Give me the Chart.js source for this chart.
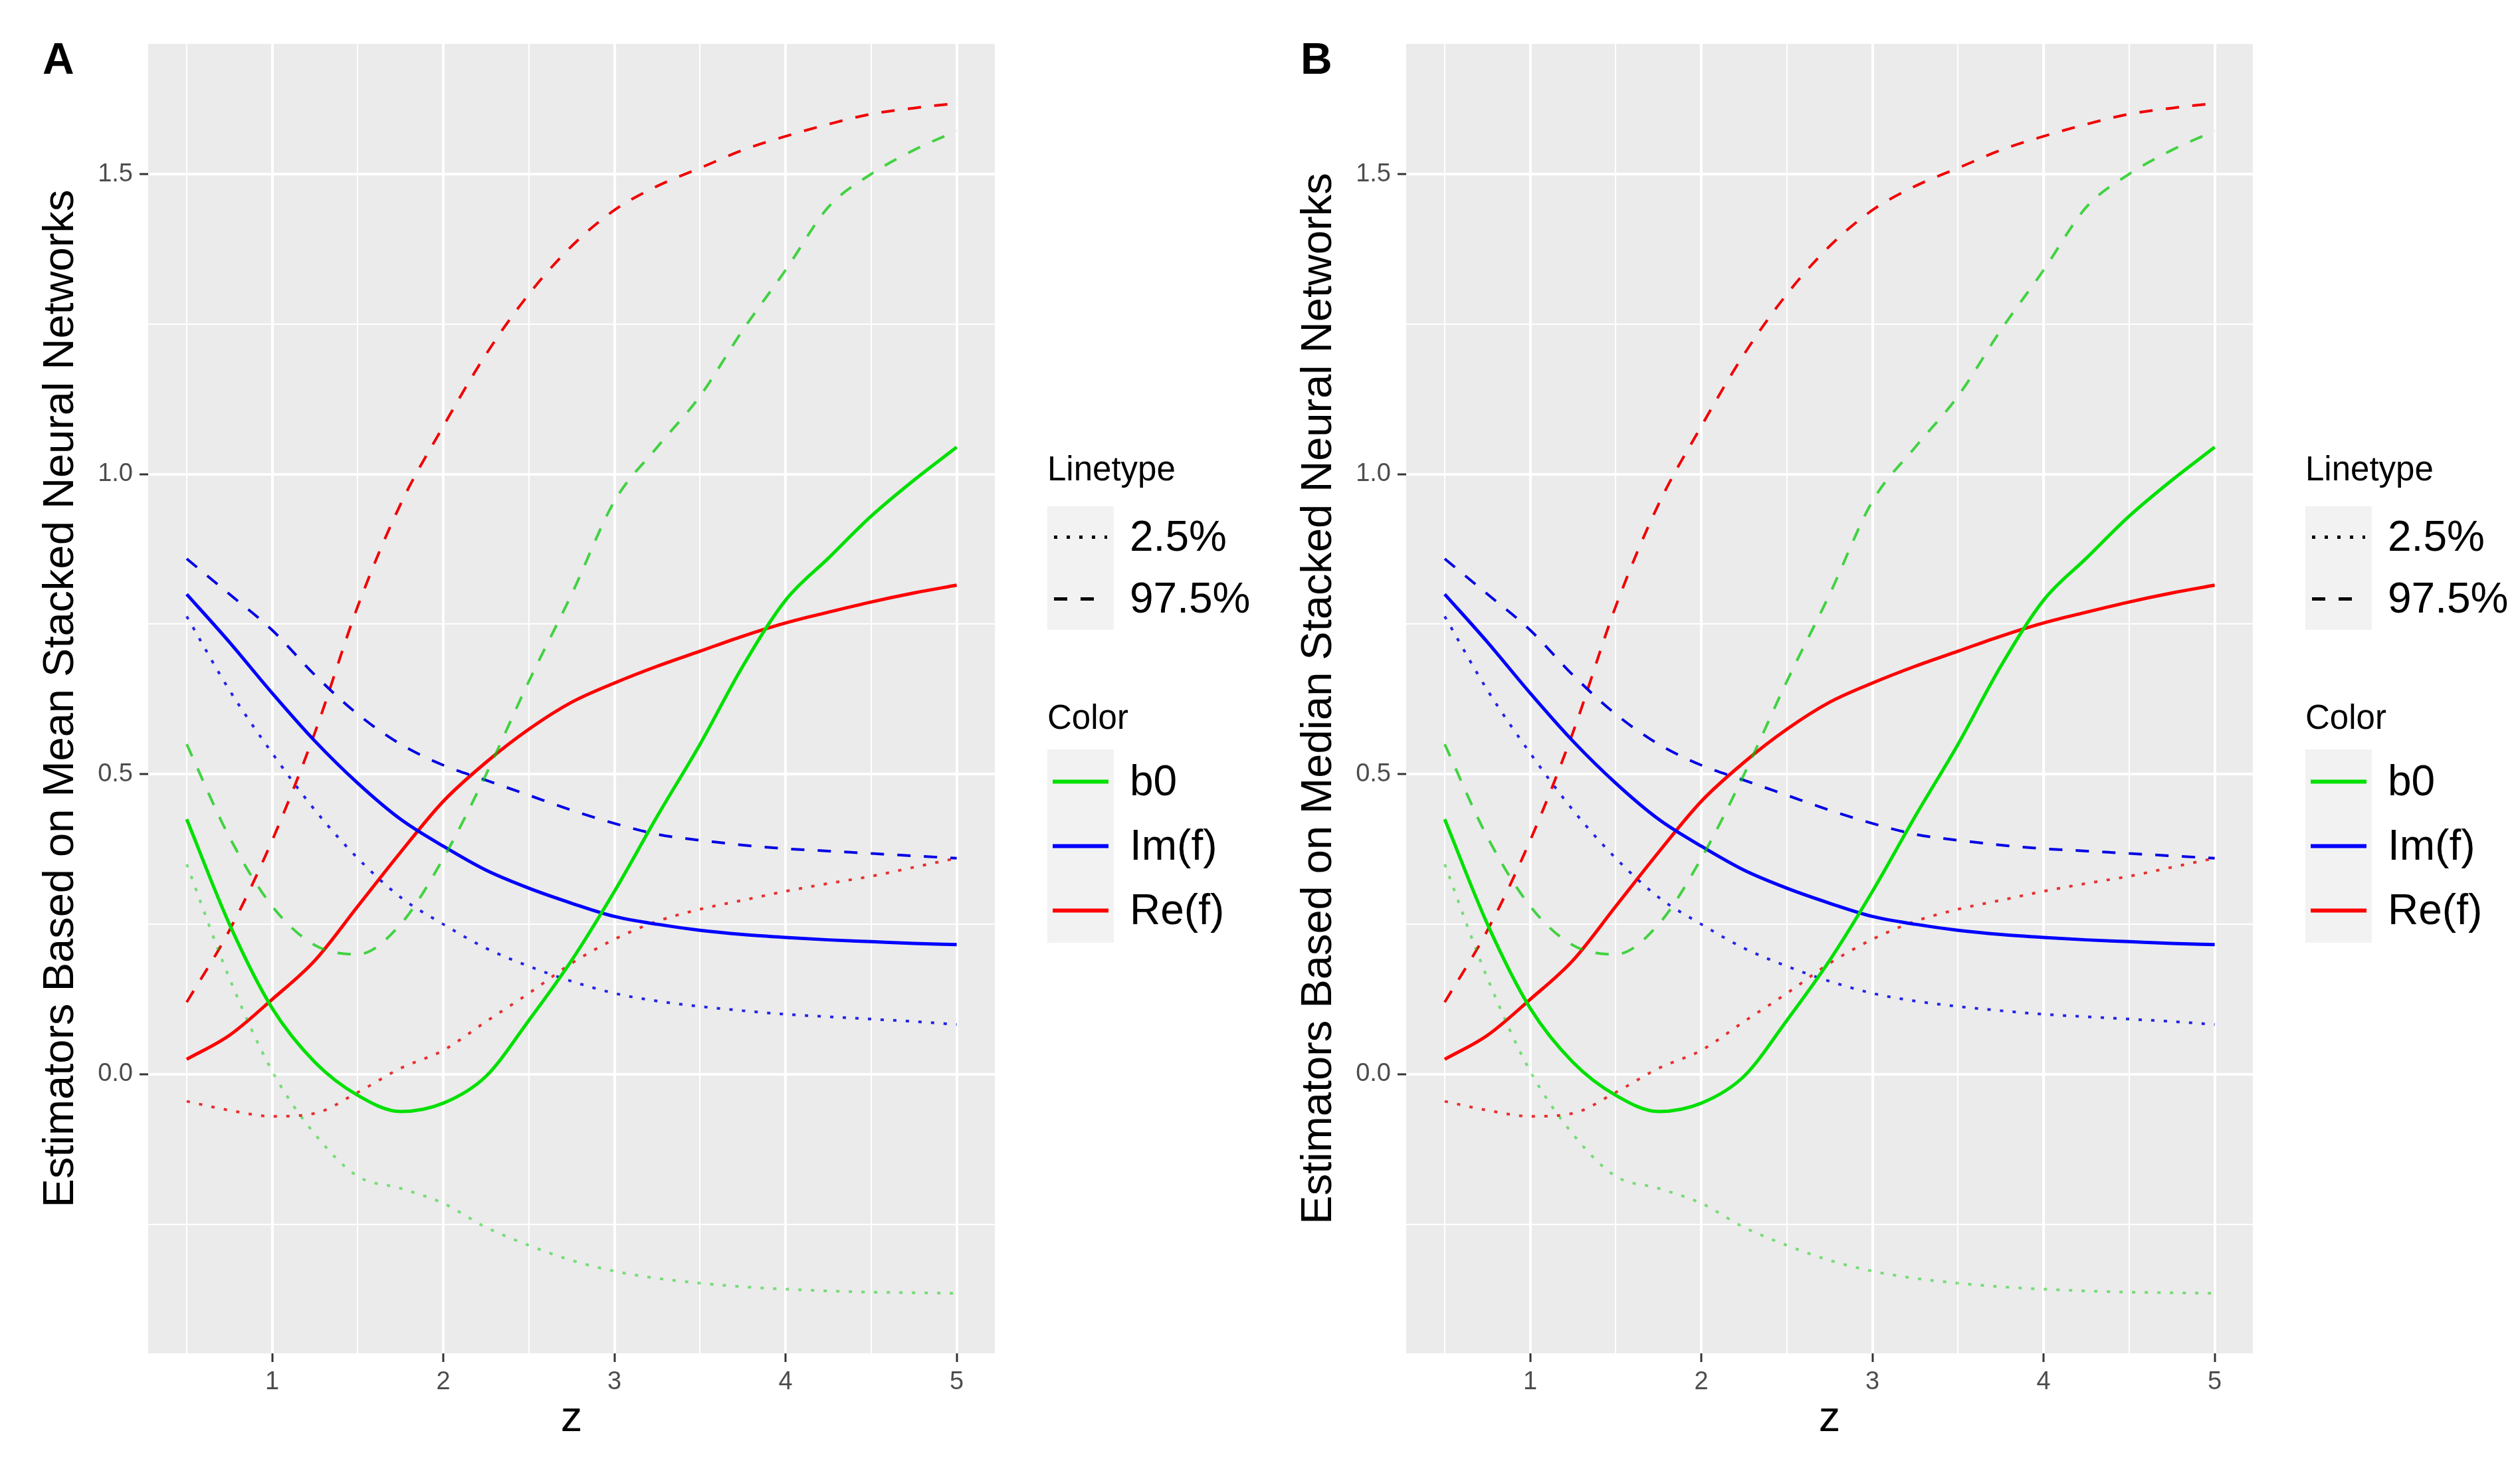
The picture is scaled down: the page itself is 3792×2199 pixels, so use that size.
<!DOCTYPE html>
<html>
<head>
<meta charset="utf-8">
<script src="https://cdn.jsdelivr.net/npm/chart.js@4.4.1/dist/chart.umd.min.js"></script>
<style>
  html, body { margin: 0; padding: 0; background: #fff; }
  body { width: 3792px; height: 2199px; position: relative; overflow: hidden; font-family: 'Liberation Sans', Arial, sans-serif; }
  .panel { position: absolute; top: 0; width: 1896px; height: 2199px; }
  .panel canvas { position: absolute; left: 0; top: 0; }
  .tag { position: absolute; left: 64px; top: 50px; font-size: 66px; font-weight: bold; }
  .lg-title { position: absolute; left: 1576px; font-size: 51px; line-height: 1; }
  .lg-box { position: absolute; left: 1576px; width: 100px; background: #F2F2F2; }
  .lg-label { position: absolute; left: 1700px; font-size: 64px; line-height: 1; }
  .lg-box svg { position: absolute; left: 0; }
</style>
</head>
<body>
<div class="panel" id="panelA" style="left:0">
  <canvas id="chartA" width="1540" height="2199"></canvas>
  <div class="tag">A</div>
</div>
<div class="panel" id="panelB" style="left:1893px">
  <canvas id="chartB" width="1540" height="2199"></canvas>
  <div class="tag">B</div>
</div>
<script>
// z grid the curves were read at
const zs = [0.5, 0.75, 1.0, 1.25, 1.5, 1.75, 2.0, 2.25, 2.5, 2.75, 3.0, 3.25, 3.5, 3.75, 4.0, 4.25, 4.5, 4.75, 5.0]

// b0
const b0Est = [0.425, 0.25, 0.11, 0.02, -0.035, -0.062, -0.048, -0.003, 0.09, 0.19, 0.305, 0.43, 0.55, 0.68, 0.79, 0.86, 0.93, 0.99, 1.045]
const b0Lo = [0.35, 0.16, 0.005, -0.1, -0.17, -0.19, -0.215, -0.255, -0.285, -0.31, -0.328, -0.34, -0.348, -0.354, -0.358, -0.361, -0.363, -0.364, -0.365]
const b0Hi = [0.55, 0.395, 0.28, 0.215, 0.2, 0.25, 0.36, 0.5, 0.655, 0.8, 0.955, 1.045, 1.13, 1.24, 1.34, 1.445, 1.5, 1.54, 1.572]
// Im(f)
const imEst = [0.8, 0.72, 0.635, 0.555, 0.485, 0.425, 0.38, 0.34, 0.31, 0.285, 0.263, 0.25, 0.24, 0.233, 0.228, 0.224, 0.221, 0.218, 0.216]
const imLo = [0.763, 0.64, 0.535, 0.44, 0.36, 0.295, 0.25, 0.21, 0.18, 0.155, 0.135, 0.122, 0.113, 0.106, 0.1, 0.096, 0.092, 0.088, 0.083]
const imHi = [0.859, 0.8, 0.74, 0.665, 0.6, 0.55, 0.515, 0.49, 0.465, 0.44, 0.418, 0.4, 0.39, 0.382, 0.376, 0.372, 0.368, 0.364, 0.36]
// Re(f)
const reEst = [0.025, 0.065, 0.125, 0.19, 0.28, 0.37, 0.455, 0.52, 0.575, 0.62, 0.652, 0.68, 0.705, 0.73, 0.752, 0.77, 0.787, 0.802, 0.815]
const reLo = [-0.045, -0.06, -0.07, -0.065, -0.03, 0.01, 0.04, 0.088, 0.135, 0.185, 0.225, 0.255, 0.275, 0.29, 0.305, 0.318, 0.33, 0.345, 0.36]
const reHi = [0.12, 0.24, 0.39, 0.57, 0.78, 0.95, 1.08, 1.2, 1.3, 1.38, 1.44, 1.48, 1.51, 1.54, 1.563, 1.583, 1.6, 1.61, 1.618]

const colorNames = ['b0', 'Im(f)', 'Re(f)']
const linetypeNames = ['2.5%', '97.5%']

const xMajor = [1, 2, 3, 4, 5]
const xMinor = [0.5, 1.5, 2.5, 3.5, 4.5]
const yMajor = [0, 0.5, 1.0, 1.5]
const yMinor = [-0.25, 0.25, 0.75, 1.25]

const titleA = 'Estimators Based on Mean Stacked Neural Networks'
const titleB = 'Estimators Based on Median Stacked Neural Networks'

const COLORS = { 'b0': '#00E000', 'Im(f)': '#0000FF', 'Re(f)': '#FF0000' }
// the interval lines come out paler in the original, green most of all
const LO_COLORS = { 'b0': 'rgba(0,205,0,0.5)', 'Im(f)': 'rgba(0,0,230,0.85)', 'Re(f)': 'rgba(230,0,0,0.8)' }
const HI_COLORS = { 'b0': 'rgba(0,200,0,0.72)', 'Im(f)': '#0000E6', 'Re(f)': '#F00000' }
const DOTTED = [5, 14]
const DASHED = [20, 20]

Chart.defaults.font.family = "'Liberation Sans', Arial, sans-serif"

const panelBg = {
  id: 'panelBg',
  beforeDraw(chart) {
    const { ctx, chartArea: a } = chart
    ctx.save()
    ctx.fillStyle = '#EBEBEB'
    ctx.fillRect(a.left, a.top, a.right - a.left, a.bottom - a.top)
    ctx.restore()
  }
}

const toPoints = (vals) => zs.map((z, i) => ({ x: z, y: vals[i] }))

const makeSeries = () => {
  const groups = [
    ['b0', b0Est, b0Lo, b0Hi],
    ['Im(f)', imEst, imLo, imHi],
    ['Re(f)', reEst, reLo, reHi],
  ]
  const sets = []
  groups.forEach(([name, est, lo, hi]) => {
    sets.push({ label: name + ' 2.5%', data: toPoints(lo), borderColor: LO_COLORS[name], borderWidth: 4, borderDash: DOTTED })
    sets.push({ label: name + ' 97.5%', data: toPoints(hi), borderColor: HI_COLORS[name], borderWidth: 4, borderDash: DASHED })
    sets.push({ label: name, data: toPoints(est), borderColor: COLORS[name], borderWidth: 5 })
  })
  return sets.map(s => ({ ...s, pointRadius: 0, fill: false, cubicInterpolationMode: 'monotone', borderCapStyle: 'butt' }))
}

const isIn = (arr, v) => arr.some(a => Math.abs(a - v) < 1e-9)

const makeChart = (canvasId, yTitle) => {
  const ctx = document.getElementById(canvasId)
  return new Chart(ctx, {
    type: 'line',
    data: { datasets: makeSeries() },
    options: {
      responsive: false,
      animation: false,
      events: [],
      layout: { padding: { left: 0, top: 66, right: 43, bottom: 0 } },
      plugins: { legend: { display: false }, tooltip: { enabled: false } },
      scales: {
        x: {
          type: 'linear',
          min: 0.275,
          max: 5.223,
          afterBuildTicks: (s) => { s.ticks = xMinor.concat(xMajor).sort((a, b) => a - b).map(v => ({ value: v })) },
          afterFit: (s) => { s.height = 162 },
          border: { display: false },
          grid: {
            color: '#FFFFFF',
            lineWidth: (c) => isIn(xMajor, c.tick.value) ? 4 : 2,
            tickColor: (c) => isIn(xMajor, c.tick.value) ? '#333333' : 'rgba(0,0,0,0)',
            tickLength: 13,
            tickWidth: 3,
          },
          ticks: {
            autoSkip: false,
            maxRotation: 0,
            padding: 8,
            color: '#4D4D4D',
            font: { size: 38 },
            callback: (v) => isIn(xMajor, v) ? String(v) : '',
          },
          title: { display: true, text: 'z', color: '#000000', font: { size: 65 }, padding: { top: 0, bottom: 24 } },
        },
        y: {
          type: 'linear',
          min: -0.465,
          max: 1.717,
          afterBuildTicks: (s) => { s.ticks = yMinor.concat(yMajor).sort((a, b) => a - b).map(v => ({ value: v })) },
          afterFit: (s) => { s.width = 223 },
          border: { display: false },
          grid: {
            color: '#FFFFFF',
            lineWidth: (c) => isIn(yMajor, c.tick.value) ? 4 : 2,
            tickColor: (c) => isIn(yMajor, c.tick.value) ? '#333333' : 'rgba(0,0,0,0)',
            tickLength: 13,
            tickWidth: 3,
          },
          ticks: {
            autoSkip: false,
            padding: 10,
            color: '#4D4D4D',
            font: { size: 38 },
            callback: (v) => isIn(yMajor, v) ? v.toFixed(1) : '',
          },
          title: { display: true, text: yTitle, color: '#000000', font: { size: 65 }, padding: { top: 53, bottom: 0 } },
        },
      },
    },
    plugins: [panelBg],
  })
}

// legend built as html next to each plot
const buildLegend = (panel) => {
  const add = (html) => panel.insertAdjacentHTML('beforeend', html)
  add(`<div class="lg-title" style="top:680px">Linetype</div>`)
  const ltTop = 762, ltH = 93
  let svg = ''
  linetypeNames.forEach((name, i) => {
    const cy = ltH * i + ltH / 2
    const dash = i === 0 ? DOTTED.join(',') : DASHED.join(',')
    svg += `<line x1="10" x2="90" y1="${cy}" y2="${cy}" stroke="#000" stroke-width="5" stroke-dasharray="${dash}"/>`
    add(`<div class="lg-label" style="top:${ltTop + cy - 34}px">${name}</div>`)
  })
  add(`<div class="lg-box" style="top:${ltTop}px;height:${ltH * 2}px"><svg width="100" height="${ltH * 2}">${svg}</svg></div>`)

  add(`<div class="lg-title" style="top:1054px">Color</div>`)
  const cTop = 1128, cH = 97
  svg = ''
  colorNames.forEach((name, i) => {
    const cy = cH * i + cH / 2
    svg += `<line x1="8" x2="92" y1="${cy}" y2="${cy}" stroke="${COLORS[name]}" stroke-width="6"/>`
    add(`<div class="lg-label" style="top:${cTop + cy - 34}px">${name}</div>`)
  })
  add(`<div class="lg-box" style="top:${cTop}px;height:${cH * 3}px"><svg width="100" height="${cH * 3}">${svg}</svg></div>`)
}

makeChart('chartA', titleA)
makeChart('chartB', titleB)
buildLegend(document.getElementById('panelA'))
buildLegend(document.getElementById('panelB'))
</script>
</body>
</html>
